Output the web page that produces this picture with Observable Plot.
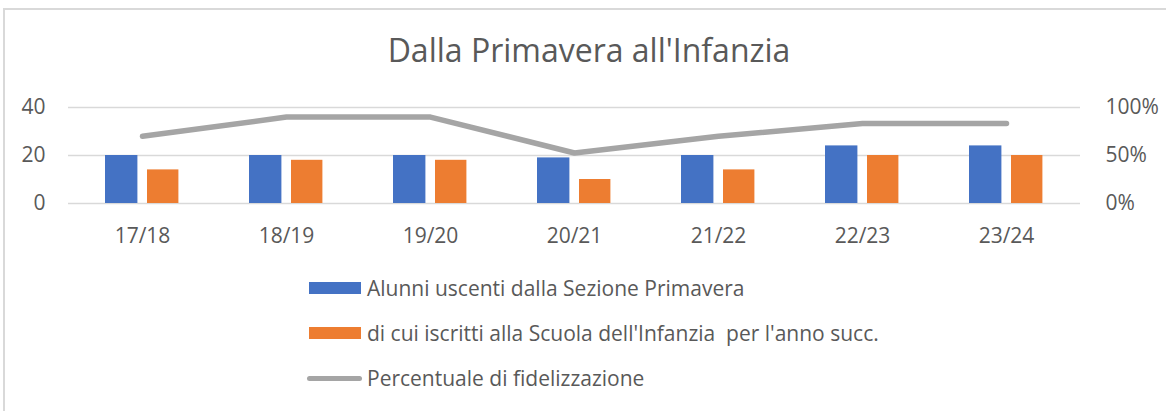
<!DOCTYPE html>
<html>
<head>
<meta charset="utf-8">
<script src="https://cdn.jsdelivr.net/npm/d3@7"></script>
<script src="https://cdn.jsdelivr.net/npm/@observablehq/plot@0.6"></script>
<style>
  html, body { margin: 0; padding: 0; background: #fff; }
  #wrap { position: relative; width: 1166px; height: 411px; overflow: hidden; font-family: "Open Sans", sans-serif; color: #595959; }
  #frame { position: absolute; left: 3px; top: 8px; width: 1300px; height: 600px; border-top: 2px solid #d9d9d9; border-left: 2px solid #d9d9d9; box-sizing: border-box; }
  #title { position: absolute; left: 6px; width: 1166px; top: 34px; text-align: center; font-size: 32px; line-height: 32px; white-space: nowrap; }
  #chart { position: absolute; left: 0; top: 80px; }
  #legend { position: absolute; left: 307px; top: 270px; font-size: 21px; }
  .item { position: absolute; left: 0; height: 30px; display: flex; align-items: center; white-space: nowrap; }
  .sw { display: inline-block; margin-right: 6px; }
</style>
</head>
<body>
<div id="wrap">
  <div id="frame"></div>
  <div id="title"></div>
  <div id="chart"></div>
  <div id="legend"></div>
</div>
<script>
const title = "Dalla Primavera all'Infanzia";
const years = ["17/18", "18/19", "19/20", "20/21", "21/22", "22/23", "23/24"];
const uscenti = [20, 20, 20, 19, 20, 24, 24];
const iscritti = [14, 18, 18, 10, 14, 20, 20];
const fidelizzazione = [0.70, 0.90, 0.90, 0.526, 0.70, 0.833, 0.833];
const leftTicks = [0, 20, 40];
const seriesNames = [
  "Alunni uscenti dalla Sezione Primavera",
  "di cui iscritti alla Scuola dell'Infanzia  per l'anno succ.",
  "Percentuale di fidelizzazione"
];
const colors = ["#4472c4", "#ed7d31", "#a5a5a5"];

const data = years.map((y, i) => ({year: y, a: uscenti[i], b: iscritti[i], p: fidelizzazione[i]}));
const yMax = 40;

document.getElementById("title").textContent = title;

const plot = Plot.plot({
  width: 1166,
  height: 180,
  marginLeft: 68,
  marginRight: 86,
  marginTop: 27,
  marginBottom: 57,
  style: {fontFamily: "Open Sans, sans-serif", fontSize: "21px", color: "#595959", background: "transparent"},
  x: {domain: years, padding: 0},
  y: {domain: [0, yMax]},
  marks: [
    Plot.gridY(leftTicks, {stroke: "#d9d9d9", strokeOpacity: 1, strokeWidth: 1.5}),
    Plot.barY(data, {x: "year", y: "a", fill: colors[0], insetLeft: 35, insetRight: 76.6}),
    Plot.barY(data, {x: "year", y: "b", fill: colors[1], insetLeft: 77, insetRight: 35.6}),
    Plot.line(data, {x: "year", y: d => d.p * yMax, stroke: colors[2], strokeWidth: 5.5, strokeLinecap: "round", strokeLinejoin: "round"}),
    Plot.axisX({tickSize: 0, tickPadding: 25, label: null, fill: "#595959"}),
    Plot.axisY(leftTicks, {anchor: "left", tickSize: 0, tickPadding: 23, label: null, fill: "#595959"}),
    Plot.axisY(leftTicks, {anchor: "right", tickSize: 0, tickPadding: 25, label: null, fill: "#595959", tickFormat: d => Math.round(d / yMax * 100) + "%"})
  ]
});
document.getElementById("chart").appendChild(plot);

const legend = document.getElementById("legend");
const rowsTop = [3, 48, 93];
seriesNames.forEach((name, i) => {
  const item = document.createElement("div");
  item.className = "item";
  item.style.top = rowsTop[i] + "px";
  const sw = document.createElement("span");
  sw.className = "sw";
  if (i < 2) {
    sw.style.width = "52px"; sw.style.height = "12px"; sw.style.background = colors[i];
    sw.style.marginLeft = "2px";
  } else {
    sw.style.width = "55px"; sw.style.height = "5px"; sw.style.background = colors[i];
    sw.style.borderRadius = "3px"; sw.style.marginRight = "5px";
  }
  const t = document.createElement("span");
  t.textContent = name;
  t.style.whiteSpace = "pre";
  item.appendChild(sw);
  item.appendChild(t);
  legend.appendChild(item);
});
</script>
</body>
</html>
